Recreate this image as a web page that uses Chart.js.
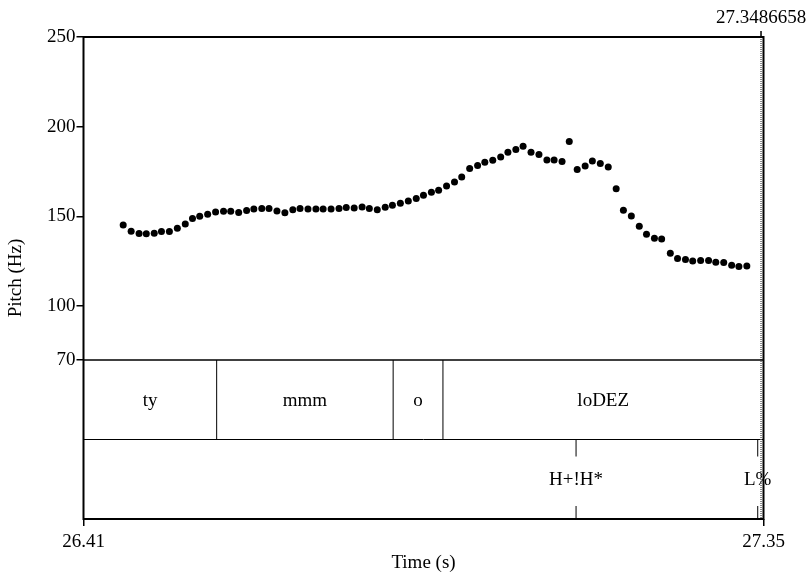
<!DOCTYPE html>
<html><head><meta charset="utf-8">
<script src="https://cdn.jsdelivr.net/npm/chart.js@4"></script>
<style>html,body{margin:0;padding:0;background:#fff}#wrap{width:808px;height:577px}</style>
</head><body><div id="wrap"><canvas id="c" width="808" height="577"></canvas></div>
<script>
// Pitch track (time in s, pitch in Hz)
const times = [26.465,26.476,26.487,26.497,26.508,26.518,26.529,26.540,26.551,26.561,
  26.571,26.582,26.593,26.604,26.614,26.625,26.636,26.646,26.657,26.667,
  26.678,26.689,26.700,26.710,26.721,26.732,26.742,26.753,26.764,26.774,
  26.785,26.796,26.806,26.817,26.828,26.838,26.849,26.860,26.871,26.881,
  26.892,26.902,26.913,26.924,26.934,26.945,26.956,26.966,26.977,26.988,
  26.998,27.009,27.019,27.030,27.041,27.052,27.062,27.073,27.083,27.094,
  27.105,27.115,27.126,27.137,27.148,27.158,27.169,27.180,27.190,27.201,
  27.211,27.223,27.233,27.244,27.254,27.265,27.276,27.286,27.297,27.308,
  27.318,27.329];
const pitch = [145.3,141.8,140.5,140.3,140.6,141.6,141.6,143.4,145.8,148.8,
  150.1,151.2,152.5,152.9,152.9,152.2,153.3,154.2,154.4,154.4,
  153.1,152.0,153.8,154.4,154.2,154.2,154.2,154.2,154.4,155.0,
  154.7,155.3,154.4,153.8,155.1,156.2,157.4,158.6,160.0,161.8,
  163.5,164.6,167.0,169.2,172.0,176.7,178.4,180.2,181.3,183.1,
  185.8,187.3,189.1,185.8,184.5,181.5,181.5,180.6,191.8,176.2,
  178.1,180.9,179.5,177.6,165.5,153.5,150.3,144.5,140.1,137.9,
  137.5,129.5,126.5,126.0,125.2,125.4,125.4,124.5,124.3,122.8,
  122.1,122.4];
const yTicks = [70,100,150,200,250];
const xTicks = [26.41, 27.3521];
const xTickLabels = ['26.41','27.35'];
// TextGrid tiers
const intervalBounds = [26.5945, 26.839, 26.908];
const intervalLabels = ['ty','mmm','o','loDEZ'];
const pointTimes = [27.0924, 27.3441];
const pointLabels = ['H+!H*','L%'];
const cursorTime = 27.3486658;
const cursorLabel = '27.3486658';

const FONT = {family:'"Liberation Serif", "Times New Roman", serif', size:19};
const FONTSTR = '19px "Liberation Serif", "Times New Roman", serif';

function line(ctx,x1,y1,x2,y2){ctx.beginPath();ctx.moveTo(x1,y1);ctx.lineTo(x2,y2);ctx.stroke();}

const tierPlugin = {
  id:'tiers',
  afterDraw(chart){
    const {ctx, chartArea:a, scales:{x,y}} = chart;
    const y70 = y.getPixelForValue(yTicks[0]);
    const yDiv = (y70 + a.bottom)/2;
    ctx.save();
    ctx.strokeStyle = '#000';
    ctx.lineWidth = 1;
    line(ctx, a.left, yDiv, a.right, yDiv);
    intervalBounds.forEach(t=>{const px=x.getPixelForValue(t); line(ctx,px,y70,px,yDiv);});
    ctx.font = FONTSTR; ctx.fillStyle = '#000'; ctx.textAlign = 'center'; ctx.textBaseline = 'middle';
    const edges = [x.min, ...intervalBounds, x.max];
    intervalLabels.forEach((l,i)=>{
      const cx = (x.getPixelForValue(edges[i]) + x.getPixelForValue(edges[i+1]))/2;
      ctx.fillText(l, cx, (y70+yDiv)/2 + 1);
    });
    pointTimes.forEach((t,i)=>{
      const px = x.getPixelForValue(t);
      line(ctx, px, yDiv, px, yDiv+17);
      line(ctx, px, a.bottom-13, px, a.bottom);
      ctx.fillText(pointLabels[i], px, (yDiv+a.bottom)/2 + 1);
    });
    // cursor
    const cx = x.getPixelForValue(cursorTime);
    ctx.save();
    ctx.strokeStyle = '#666'; ctx.lineWidth = 1.5; ctx.setLineDash([1,1]);
    line(ctx, cx, a.top, cx, a.bottom);
    ctx.restore();
    ctx.lineWidth = 1.5;
    line(ctx, cx, a.top-6, cx, a.top);
    ctx.fillText(cursorLabel, cx, 18);
    // 70 line and frame
    ctx.lineWidth = 1.5;
    line(ctx, a.left, y70, a.right, y70);
    ctx.lineWidth = 2;
    ctx.strokeRect(a.left, a.top, a.right-a.left, a.bottom-a.top);
    ctx.restore();
  }
};

new Chart(document.getElementById('c'), {
  type:'scatter',
  data:{datasets:[{
    data: times.map((t,i)=>({x:t, y:pitch[i]})),
    pointRadius:3.5, pointBackgroundColor:'#000', pointBorderWidth:0, showLine:false
  }]},
  options:{
    responsive:false, animation:false, devicePixelRatio:1,
    layout:{padding:{left:0, top:37, right:44.5, bottom:0}},
    plugins:{legend:{display:false}, tooltip:{enabled:false}},
    scales:{
      x:{type:'linear', min:26.41, max:27.3521,
        afterBuildTicks:s=>{s.ticks = xTicks.map(v=>({value:v}));},
        afterFit:s=>{s.height = 58;},
        ticks:{autoSkip:false, maxRotation:0, color:'#000', font:FONT, padding:5,
          callback:(v,i)=>xTickLabels[i]},
        grid:{drawOnChartArea:false, tickLength:7, color:'#000', lineWidth:1.5},
        border:{display:false},
        title:{display:true, text:'Time (s)', color:'#000', font:FONT, padding:{top:0, bottom:3}}
      },
      y:{type:'linear', min:-18.6, max:250,
        afterBuildTicks:s=>{s.ticks = yTicks.map(v=>({value:v}));},
        afterFit:s=>{s.width = 83.5;},
        ticks:{autoSkip:false, color:'#000', font:FONT, padding:1, callback:v=>String(v)},
        grid:{drawOnChartArea:false, tickLength:7, color:'#000', lineWidth:1.5},
        border:{display:false},
        title:{display:true, text:'Pitch (Hz)', color:'#000', font:FONT, padding:{top:5, bottom:0}}
      }
    }
  },
  plugins:[tierPlugin]
});
</script>
</body></html>
